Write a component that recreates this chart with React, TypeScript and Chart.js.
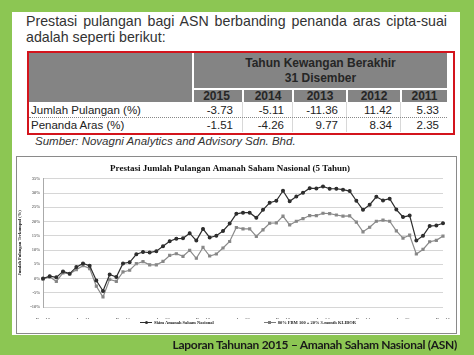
import React, { useEffect, useRef } from "react";
import { Chart, registerables } from "chart.js";
Chart.register(...registerables);

const months = [
  "Dec-10","Jan-11","Feb-11","Mar-11","Apr-11","May-11","Jun-11","Jul-11","Aug-11","Sep-11","Oct-11","Nov-11",
  "Dec-11","Jan-12","Feb-12","Mar-12","Apr-12","May-12","Jun-12","Jul-12","Aug-12","Sep-12","Oct-12","Nov-12",
  "Dec-12","Jan-13","Feb-13","Mar-13","Apr-13","May-13","Jun-13","Jul-13","Aug-13","Sep-13","Oct-13","Nov-13",
  "Dec-13","Jan-14","Feb-14","Mar-14","Apr-14","May-14","Jun-14","Jul-14","Aug-14","Sep-14","Oct-14","Nov-14",
  "Dec-14","Jan-15","Feb-15","Mar-15","Apr-15","May-15","Jun-15","Jul-15","Aug-15","Sep-15","Oct-15","Nov-15",
  "Dec-15",
];

const asnReturns = [
  0, 0.8, 0.4, 2.5, 1.7, 4.0, 5.3, 4.5, -0.7, -4.4, 1.4, 0.5,
  5.3, 5.7, 8.5, 9.3, 9.1, 9.6, 11.3, 13.1, 14.0, 14.1, 15.9, 13.3,
  17.4, 14.4, 15.0, 16.7, 19.3, 22.7, 23.1, 23.1, 21.3, 24.1, 26.6, 27.3,
  30.8, 27.1, 28.8, 30.1, 31.7, 31.6, 32.3, 31.5, 31.5, 31.2, 30.7, 27.3,
  24.1, 25.9, 28.7, 27.4, 28.0, 24.2, 21.6, 22.1, 13.3, 15.0, 18.4, 18.6,
  19.4,
];

const benchmarkReturns = [
  -0.2, 0.6, -1.0, 2.0, 1.6, 3.1, 4.5, 3.5, -2.7, -6.5, -0.3, -1.0,
  2.3, 2.9, 5.2, 5.9, 4.8, 4.8, 6.0, 8.1, 8.7, 7.8, 9.9, 7.1,
  10.9, 7.9, 8.6, 10.7, 13.0, 17.9, 17.4, 17.4, 14.8, 17.1, 19.4, 19.5,
  21.9, 18.8, 20.1, 21.0, 22.1, 22.1, 22.9, 22.8, 22.3, 21.9, 22.0, 19.8,
  16.4, 18.0, 20.1, 20.5, 20.1, 16.7, 14.2, 15.2, 8.6, 10.2, 12.9, 13.4,
  14.9,
];

const seriesNames = ["Skim Amanah Saham Nasional", "80% FBM 100 + 20% 3-month KLIBOR"];
const yearHeaders = ["2015", "2014", "2013", "2012", "2011"];
const jumlahPulangan = ["-3.73", "-5.11", "-11.36", "11.42", "5.33"];
const penandaAras = ["-1.51", "-4.26", "9.77", "8.34", "2.35"];

const colLefts = [165, 213, 263, 317, 371];
const colWidths = [47, 50, 54, 54, 47];

const SANS = "'Liberation Sans', Arial, sans-serif";
const SERIF = "'Liberation Serif', 'Times New Roman', serif";

function LineChart() {
  const ref = useRef<HTMLCanvasElement>(null);
  useEffect(() => {
    if (!ref.current) return;
    const chart = new Chart(ref.current, {
      type: "line",
      data: {
        labels: months,
        datasets: [
          {
            label: seriesNames[0],
            data: asnReturns,
            borderColor: "#2e2e2e",
            backgroundColor: "#2e2e2e",
            borderWidth: 1.2,
            pointRadius: 1.4,
            pointStyle: "circle",
            tension: 0,
          },
          {
            label: seriesNames[1],
            data: benchmarkReturns,
            borderColor: "#8a8a8a",
            backgroundColor: "#7a7a7a",
            borderWidth: 1.2,
            pointRadius: 1.4,
            pointStyle: "rect",
            tension: 0,
          },
        ],
      },
      options: {
        animation: false,
        responsive: false,
        maintainAspectRatio: false,
        layout: { padding: { left: 0, right: 13, top: 0, bottom: 14 } },
        plugins: {
          legend: { display: false },
          tooltip: { enabled: false },
          title: {
            display: true,
            text: "Prestasi Jumlah Pulangan Amanah Saham Nasional (5 Tahun)",
            color: "#111",
            font: { family: SERIF, size: 9, weight: "bold" },
            padding: { top: 5, bottom: 5 },
          },
        },
        scales: {
          x: {
            grid: { display: false },
            border: { display: false },
            ticks: {
              autoSkip: false,
              maxRotation: 0,
              minRotation: 0,
              padding: 2,
              color: "#333",
              font: { family: SERIF, size: 5 },
              callback: (_v: any, i: number) => (i % 6 === 0 ? months[i] : ""),
            },
            afterFit: (s: any) => {
              s.height = 12;
            },
          },
          y: {
            min: -10,
            max: 35,
            ticks: {
              stepSize: 5,
              padding: 3,
              color: "#333",
              font: { family: SERIF, size: 4.5 },
              callback: (v: any) => v + "%",
            },
            grid: { color: "#d6d6d6", drawTicks: false, lineWidth: 1 },
            border: { display: true, color: "#aaa" },
            title: {
              display: true,
              text: "Jumlah Pulangan Terkumpul (%)",
              color: "#222",
              font: { family: SERIF, size: 4.5, weight: "bold" },
              padding: 0,
            },
            afterFit: (s: any) => {
              s.width = 26;
            },
          },
        },
      },
    });
    return () => chart.destroy();
  }, []);
  return <canvas ref={ref} width={439} height={175} style={{ display: "block", width: 439, height: 175 }} />;
}

function LegendItem({ color, square, text }: { color: string; square: boolean; text: string }) {
  return (
    <div style={{ display: "flex", alignItems: "center", gap: 2 }}>
      <div style={{ position: "relative", width: 12, height: 4 }}>
        <div style={{ position: "absolute", left: 0, right: 0, top: 1.5, height: 1, background: color }} />
        <div
          style={{
            position: "absolute",
            left: 4.5,
            top: 0.5,
            width: 3,
            height: 3,
            background: color,
            borderRadius: square ? 0 : 2,
          }}
        />
      </div>
      <span style={{ fontFamily: SERIF, fontSize: 4.5, fontWeight: "bold", color: "#222", whiteSpace: "nowrap" }}>{text}</span>
    </div>
  );
}

export default function App() {
  return (
    <div style={{ position: "fixed", left: 0, top: 0, width: 474, height: 355, background: "#8cc653", overflow: "hidden" }}>
      <div style={{ position: "absolute", left: 12, top: 12, width: 448, height: 323, background: "#fff" }} />
      {/* Intro text */}
      <div
        style={{
          position: "absolute",
          left: 26,
          top: 13,
          width: 421,
          fontFamily: SANS,
          fontSize: 14.2,
          color: "#333",
          lineHeight: "16px",
        }}
      >
        <div style={{ textAlign: "justify", textAlignLast: "justify" as any, whiteSpace: "nowrap" }}>
          Prestasi pulangan bagi ASN berbanding penanda aras cipta-suai
        </div>
        <div style={{ whiteSpace: "nowrap" }}>adalah seperti berikut:</div>
      </div>

      {/* Table */}
      <div
        style={{
          position: "absolute",
          left: 27,
          top: 51,
          width: 428,
          height: 84,
          border: "2px solid #d3141c",
          boxSizing: "border-box",
          fontFamily: SANS,
        }}
      >
        <div style={{ position: "absolute", left: 0, top: 0, width: 418, height: 49, background: "#848484" }} />
        <div style={{ position: "absolute", left: 163, top: 0, width: 2, height: 78, background: "#fff" }} />
        <div style={{ position: "absolute", left: 165, top: 35, width: 253, height: 1.5, background: "#fff" }} />
        <div
          style={{
            position: "absolute",
            left: 165,
            top: 3,
            width: 253,
            textAlign: "center",
            fontWeight: "bold",
            fontSize: 12,
            lineHeight: "14.5px",
            color: "#262626",
          }}
        >
          Tahun Kewangan Berakhir
          <br />
          31 Disember
        </div>
        {yearHeaders.map((y, i) => (
          <div
            key={y}
            style={{
              position: "absolute",
              left: colLefts[i],
              top: 36,
              width: colWidths[i] - 2,
              height: 13,
              borderLeft: i > 0 ? "2px solid #fff" : "none",
              textAlign: "center",
              fontWeight: "bold",
              fontSize: 12,
              lineHeight: "14px",
              color: "#262626",
            }}
          >
            {y}
          </div>
        ))}
        {yearHeaders.map((y, i) =>
          i > 0 ? (
            <div
              key={"sep" + y}
              style={{ position: "absolute", left: colLefts[i], top: 49, width: 1, height: 30, background: "#d8d8d8" }}
            />
          ) : null
        )}
        <div
          style={{ position: "absolute", left: 0, top: 64, width: 418, height: 0, borderTop: "1px dotted #888" }}
        />
        <div style={{ position: "absolute", left: 2, top: 50, fontSize: 11.5, lineHeight: "14px", color: "#222" }}>
          Jumlah Pulangan (%)
        </div>
        <div style={{ position: "absolute", left: 2, top: 65, fontSize: 11.5, lineHeight: "14px", color: "#222" }}>
          Penanda Aras (%)
        </div>
        {jumlahPulangan.map((v, i) => (
          <div
            key={"j" + i}
            style={{
              position: "absolute",
              left: colLefts[i],
              top: 50,
              width: colWidths[i] - 8,
              textAlign: "right",
              fontSize: 11.5,
              lineHeight: "14px",
              color: "#222",
            }}
          >
            {v}
          </div>
        ))}
        {penandaAras.map((v, i) => (
          <div
            key={"p" + i}
            style={{
              position: "absolute",
              left: colLefts[i],
              top: 65,
              width: colWidths[i] - 8,
              textAlign: "right",
              fontSize: 11.5,
              lineHeight: "14px",
              color: "#222",
            }}
          >
            {v}
          </div>
        ))}
      </div>
      <div
        style={{
          position: "absolute",
          left: 35,
          top: 134,
          fontFamily: SANS,
          fontStyle: "italic",
          fontSize: 11.5,
          lineHeight: "14px",
          color: "#333",
        }}
      >
        Sumber: Novagni Analytics and Advisory Sdn. Bhd.
      </div>

      {/* Chart frame */}
      <div
        style={{
          position: "absolute",
          left: 16,
          top: 156,
          width: 441,
          height: 178,
          border: "1px solid #8a8a8a",
          boxSizing: "border-box",
          background: "#fff",
        }}
      />
      <div style={{ position: "absolute", left: 17, top: 158 }}>
        <LineChart />
      </div>
      <div
        style={{
          position: "absolute",
          left: 140,
          top: 320,
          width: 200,
          display: "flex",
          gap: 50,
          alignItems: "center",
        }}
      >
        <LegendItem color="#2e2e2e" square={false} text={seriesNames[0]} />
        <LegendItem color="#7a7a7a" square={true} text={seriesNames[1]} />
      </div>

      {/* Footer */}
      <div
        style={{
          position: "absolute",
          right: 17,
          top: 337,
          fontFamily: "Lato, 'Open Sans', sans-serif",
          fontWeight: "bold",
          fontSize: 12,
          letterSpacing: "-0.3px",
          lineHeight: "16px",
          color: "#1a1a1a",
          whiteSpace: "nowrap",
        }}
      >
        Laporan Tahunan 2015 – Amanah Saham Nasional (ASN)
      </div>
    </div>
  );
}
